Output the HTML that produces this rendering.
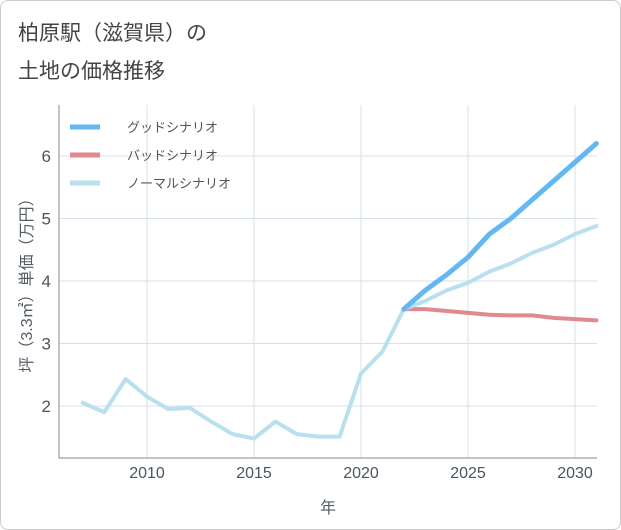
<!DOCTYPE html>
<html><head><meta charset="utf-8"><style>
body{margin:0;background:#fff;}
#wrap{position:relative;width:621px;height:530px;font-family:"Liberation Sans","Noto Sans CJK JP",sans-serif;}
#card{position:absolute;left:0;top:0;width:619px;height:528px;border:1px solid #ccc;border-radius:8px;}
.t{position:absolute;left:18px;font-size:21px;color:#444;}
</style></head><body>
<div id="wrap">
<div id="card"></div>
<div class="t" style="top:17px">柏原駅（滋賀県）の</div>
<div class="t" style="top:55px">土地の価格推移</div>
<svg id="svg" width="621" height="530" style="position:absolute;left:0;top:0"></svg>
</div>
<script>
const years=[2007,2008,2009,2010,2011,2012,2013,2014,2015,2016,2017,2018,2019,2020,2021,2022];
const normalHist=[2.05,1.9,2.43,2.15,1.95,1.97,1.75,1.55,1.48,1.75,1.55,1.51,1.51,2.52,2.87,3.55];
const futYears=[2022,2023,2024,2025,2026,2027,2028,2029,2030,2031];
const goodVals=[3.55,3.85,4.1,4.38,4.75,5.0,5.3,5.6,5.9,6.2];
const badVals=[3.55,3.55,3.52,3.49,3.46,3.45,3.45,3.41,3.39,3.37];
const normVals=[3.55,3.68,3.85,3.97,4.15,4.28,4.45,4.58,4.75,4.88];
const xTicks=[2010,2015,2020,2025,2030];
const yTicks=[2,3,4,5,6];
const L=59,R=597,T=105,B=458;
const x=v=>147+(v-2010)*21.4;
const y=v=>406-(v-2)*62.5;
const svg=document.getElementById('svg');
const NS='http://www.w3.org/2000/svg';
function mk(tag,attrs,parent){const e=document.createElementNS(NS,tag);for(const k in attrs)e.setAttribute(k,attrs[k]);(parent||svg).appendChild(e);return e;}
const bg=mk('rect',{x:L,y:T,width:R-L,height:B-T,fill:'#fff',stroke:'none'});


xTicks.forEach(v=>{
 const g=mk('line',{x1:x(v),x2:x(v),y1:T,y2:B,stroke:'#d5e0ea','stroke-width':1});
 
 
 const t=mk('text',{x:x(v),y:B+20,'text-anchor':'middle','font-size':16,fill:'#4a5560'});t.textContent=v;
 
 
});
yTicks.forEach(v=>{
 const g=mk('line',{x1:L,x2:R,y1:y(v),y2:y(v),stroke:'#d5e0ea','stroke-width':1});
 
 
 const t=mk('text',{x:L-8,y:y(v)+6,'text-anchor':'end','font-size':17,fill:'#4a5560'});t.textContent=v;
 
 
});
const ax=mk('path',{d:`M${L} ${T}V${B}H${R}`,fill:'none',stroke:'#888','stroke-width':1});


const xt=mk('text',{x:(L+R)/2,y:513,'text-anchor':'middle','font-size':16,fill:'#555c66'});xt.textContent='年';


const yt=mk('text',{x:0,y:0,'text-anchor':'middle','font-size':16,fill:'#555c66',transform:`translate(32,${(T+B)/2}) rotate(-90)`});yt.textContent='坪（3.3㎡）単価（万円）';


function line(xs,vs,color,name,w){
 const p=mk('polyline',{points:xs.map((a,i)=>x(a)+','+y(vs[i])).join(' '),fill:'none',stroke:color,'stroke-width':w,'stroke-linejoin':'round','stroke-linecap':'round'});
 
 
}
line(years,normalHist,'#b8e0ee','normal-history-line',4);
line(futYears,badVals,'#e08a90','bad-scenario-line',4);
line(futYears,normVals,'#b8e0ee','normal-scenario-line',4);
line(futYears,goodVals,'#64b8f2','good-scenario-line',5);
const leg=[['グッドシナリオ','#64b8f2',127],['バッドシナリオ','#e08a90',155],['ノーマルシナリオ','#b8e0ee',183]];
leg.forEach(([n,c,yy])=>{
 const l=mk('line',{x1:70,x2:100,y1:yy,y2:yy,stroke:c,'stroke-width':5});
 
 
 const t=mk('text',{x:127,y:yy+5,'font-size':13,fill:'#555'});t.textContent=n;
 
 
});
</script>
</body></html>
